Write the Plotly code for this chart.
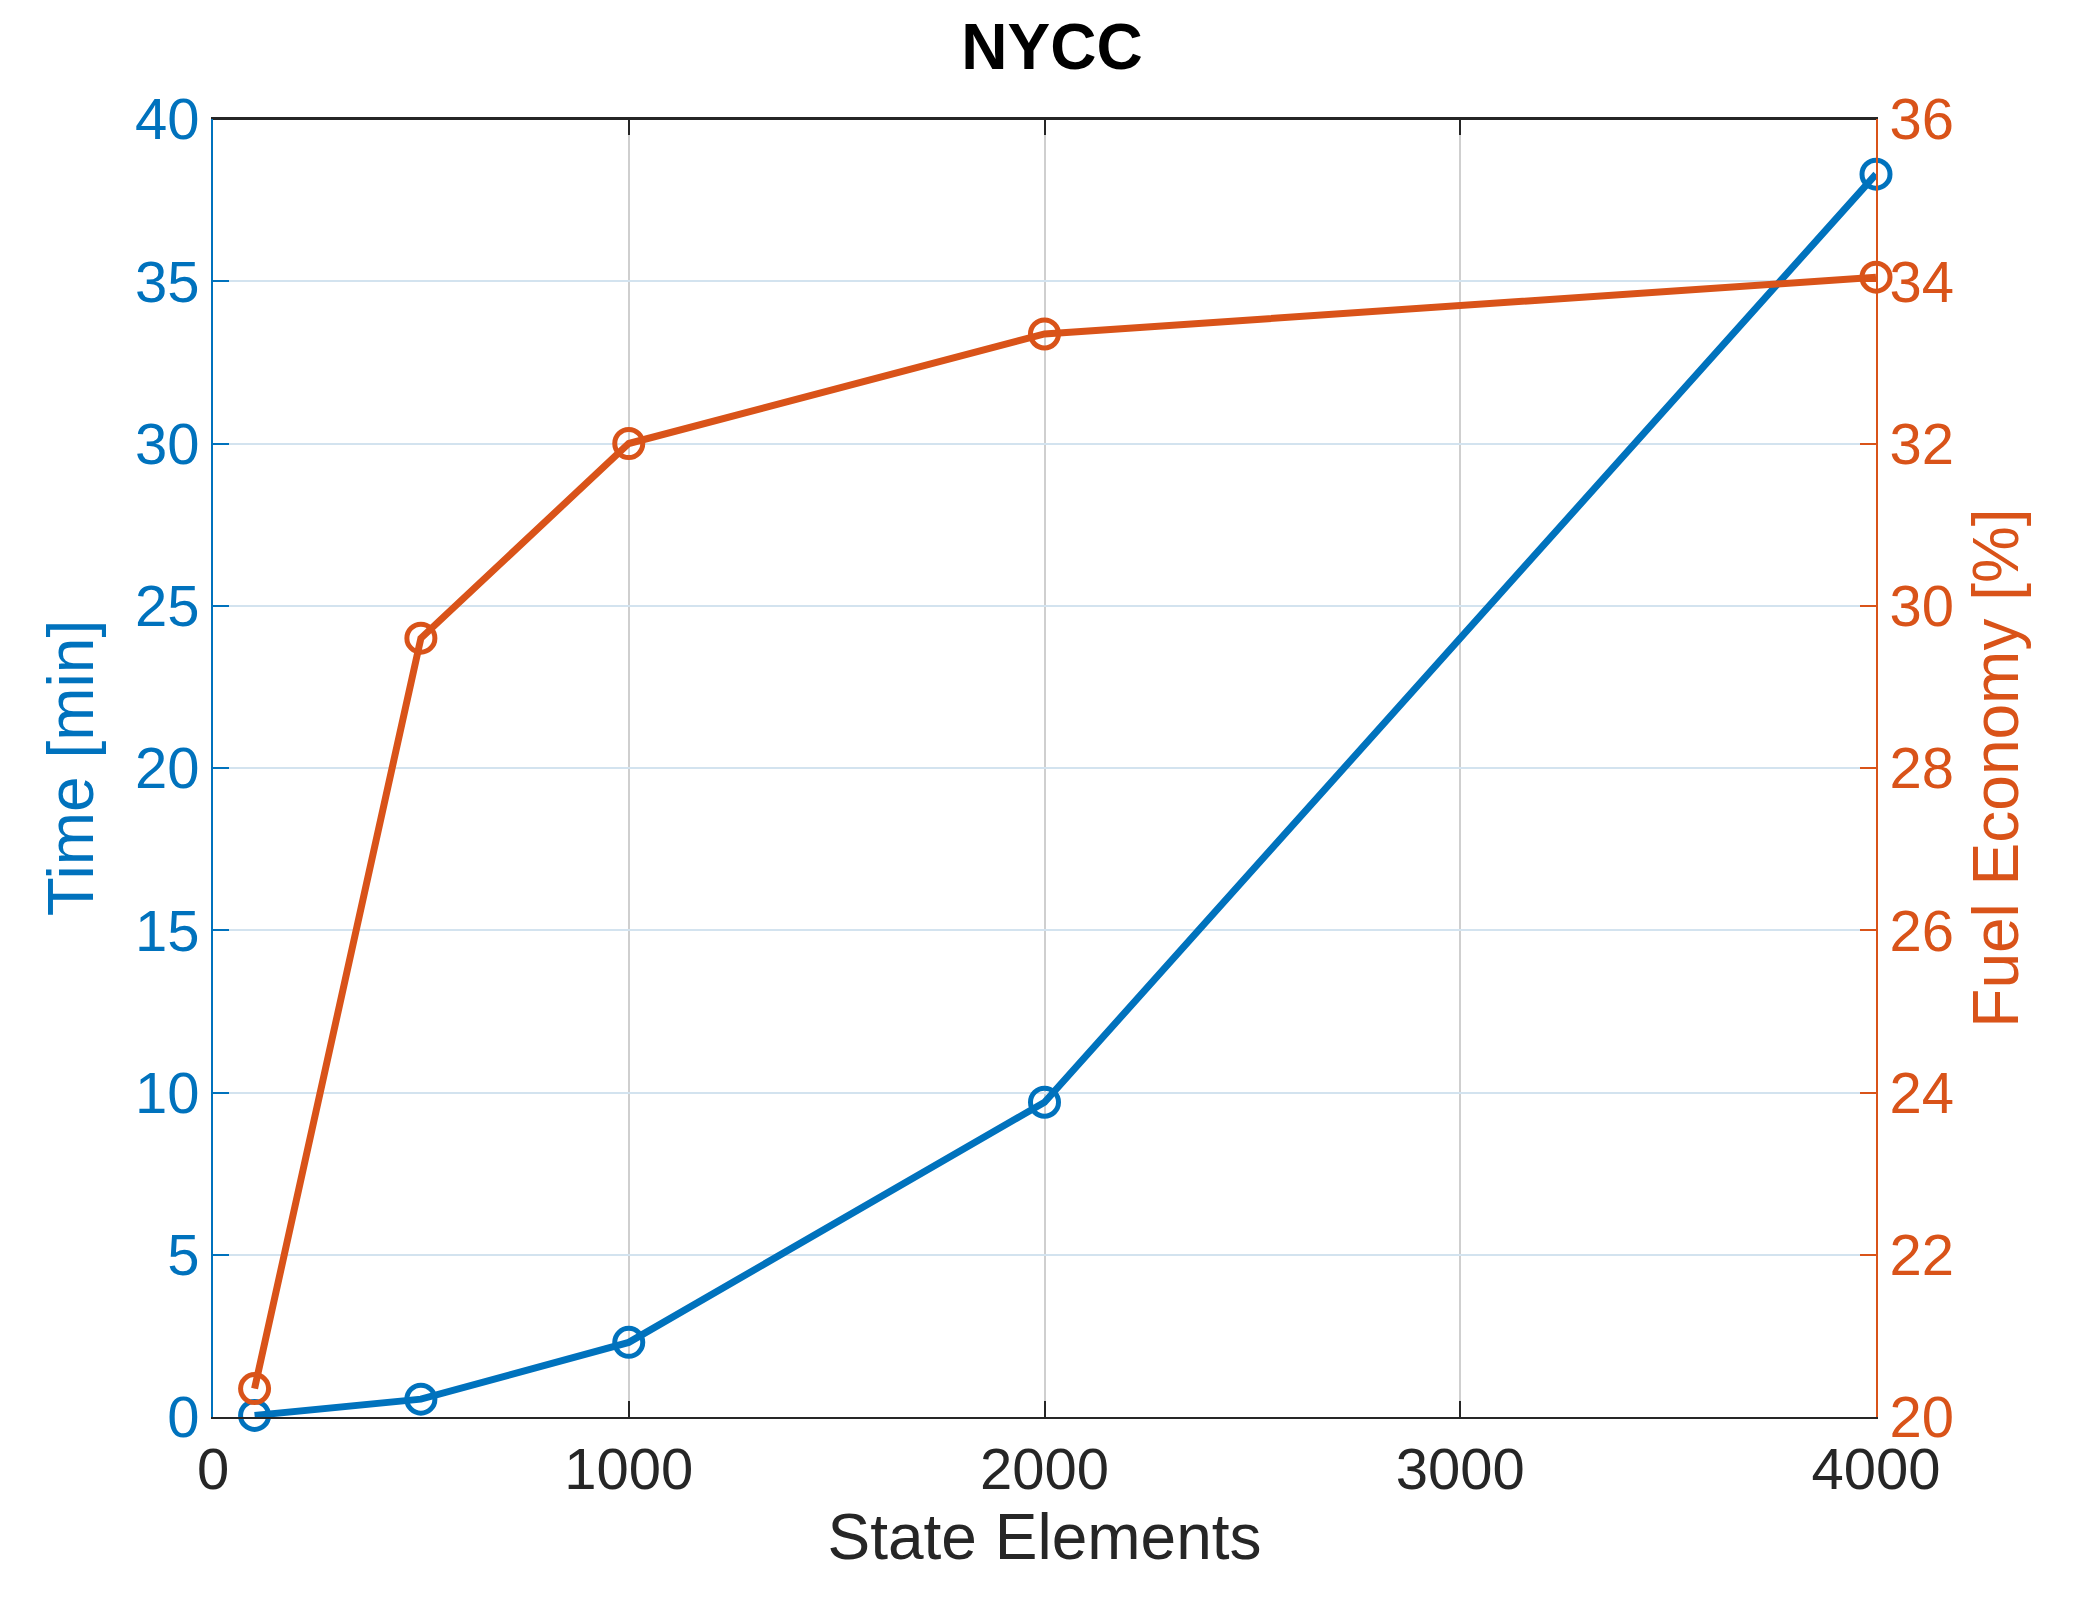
import plotly.graph_objects as go

state_elements = [100, 500, 1000, 2000, 4000]
time_min = [0.05, 0.55, 2.3, 9.7, 38.3]
fuel_economy = [20.35, 29.6, 32.0, 33.35, 34.05]

blue = "#0072BD"
orange = "#D95319"

fig = go.Figure()
fig.add_trace(go.Scatter(x=state_elements, y=time_min, mode="lines+markers",
    line=dict(color=blue, width=7), marker=dict(symbol="circle-open", size=28, color=blue, line=dict(width=5)),
    yaxis="y", showlegend=False, cliponaxis=False))
fig.add_trace(go.Scatter(x=state_elements, y=fuel_economy, mode="lines+markers",
    line=dict(color=orange, width=7), marker=dict(symbol="circle-open", size=28, color=orange, line=dict(width=5)),
    yaxis="y2", showlegend=False, cliponaxis=False))

font = "Liberation Sans, Arial, sans-serif"
fig.update_layout(
    width=2088, height=1604,
    margin=dict(l=205, r=220, t=111, b=195),
    paper_bgcolor="white", plot_bgcolor="white",
    font=dict(family=font, size=58, color="#262626"),
    title=dict(text="<b>NYCC</b>", x=0.5, xanchor="center", y=0.99, yanchor="top",
               font=dict(size=64, color="black")),
    xaxis=dict(range=[0, 4000], tickvals=[0, 1000, 2000, 3000, 4000],
               title=dict(text="State Elements", font=dict(size=64, color="#262626"), standoff=14),
               showgrid=True, gridcolor="#CFCFCF", gridwidth=2,
               showline=True, linecolor="#262626", linewidth=2, mirror="ticks",
               ticks="inside", ticklen=16, tickwidth=2, tickcolor="#262626", zeroline=False),
    yaxis=dict(range=[0, 40], tickvals=list(range(0, 41, 5)),
               title=dict(text="Time [min]", font=dict(size=64, color=blue), standoff=20),
               tickfont=dict(color=blue),
               showgrid=True, gridcolor="#D3E3EF", gridwidth=2,
               showline=True, linecolor=blue, linewidth=2,
               ticks="inside", ticklen=16, tickwidth=2, tickcolor=blue, zeroline=False),
    yaxis2=dict(range=[20, 36], tickvals=list(range(20, 37, 2)), overlaying="y", side="right",
               title=dict(text="Fuel Economy [%]", font=dict(size=64, color=orange), standoff=20),
               tickfont=dict(color=orange), showgrid=False,
               showline=True, linecolor=orange, linewidth=2,
               ticks="inside", ticklen=16, tickwidth=2, tickcolor=orange, zeroline=False),
)
fig.add_shape(type="line", xref="paper", yref="paper", x0=0, x1=1, y0=1, y1=1,
              line=dict(color="#262626", width=2))
fig.write_html("out.html")
